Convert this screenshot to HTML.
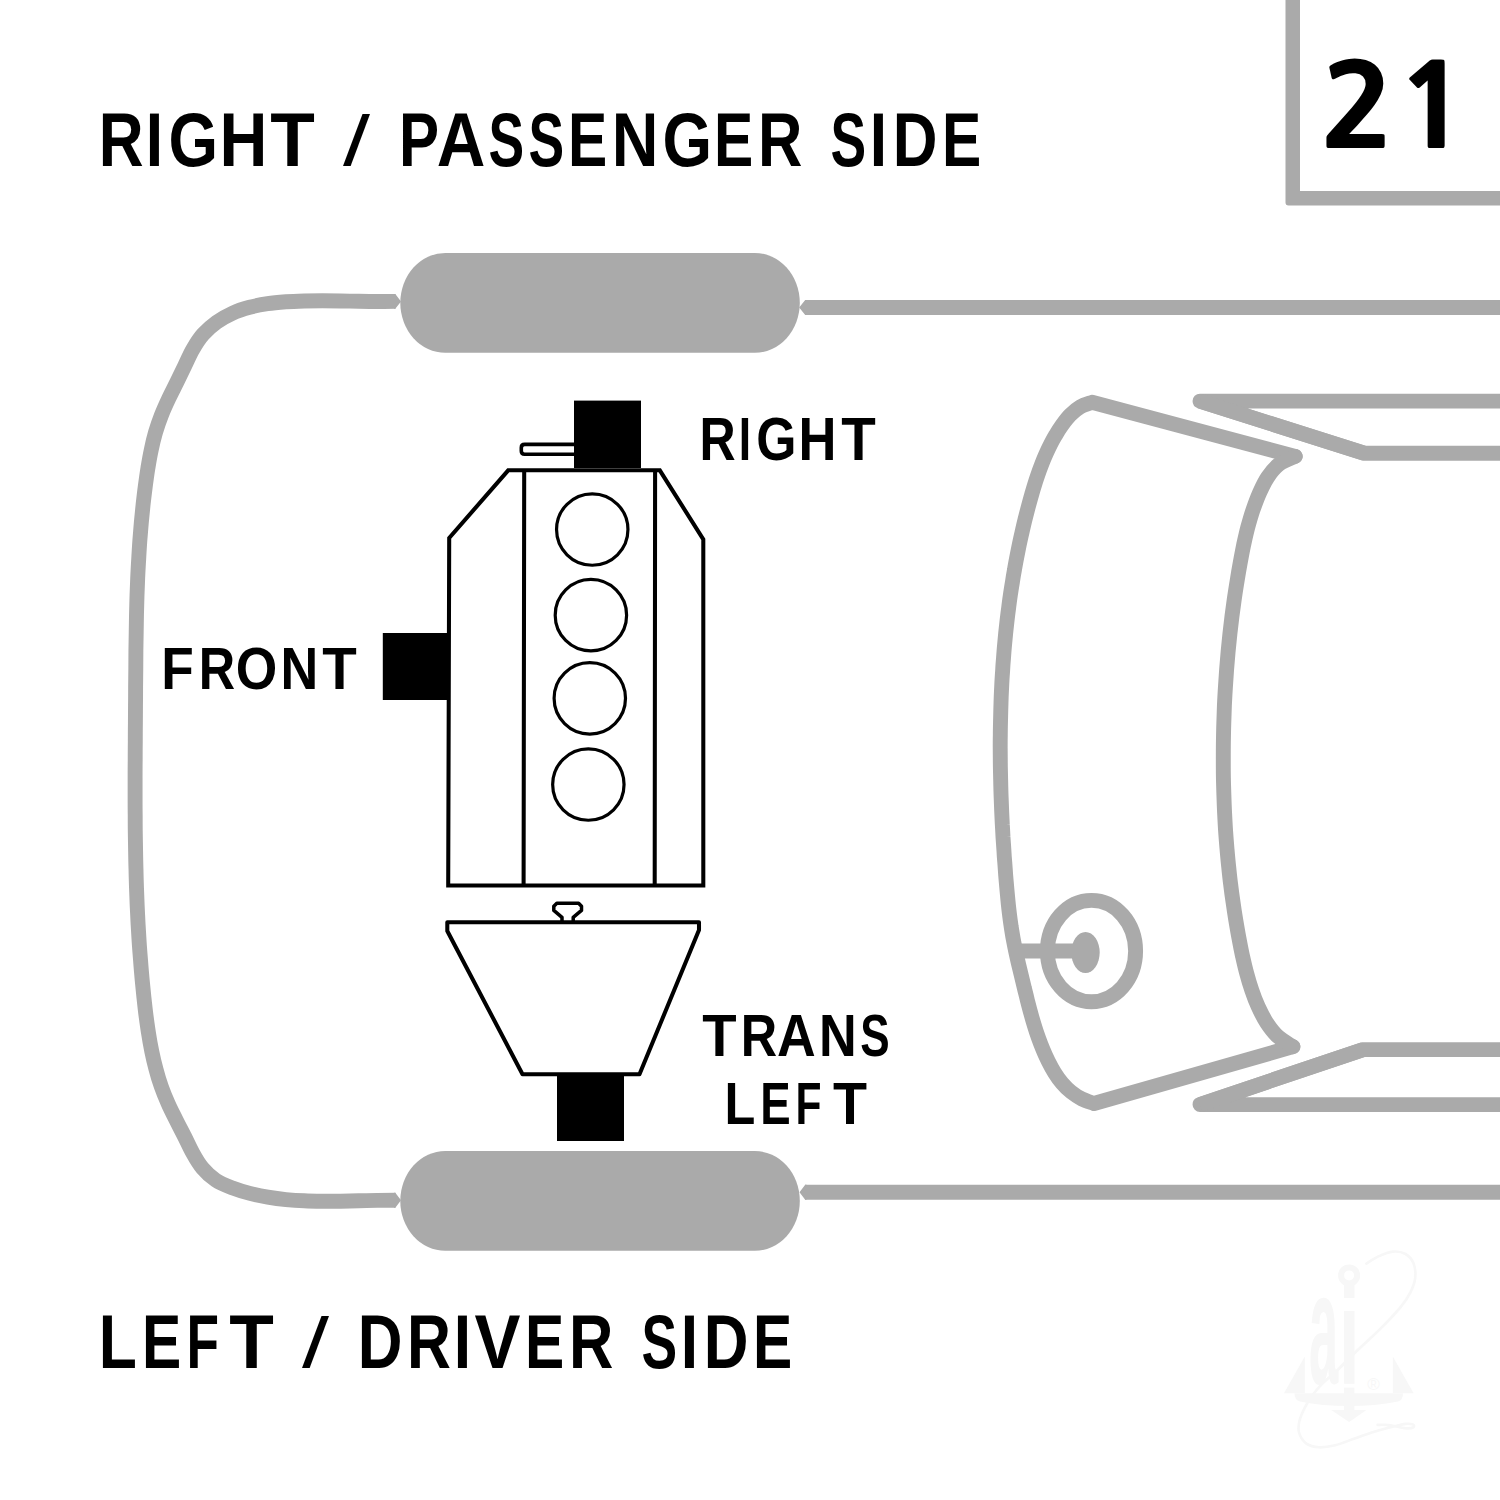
<!DOCTYPE html>
<html lang="en">
<head>
<meta charset="utf-8">
<title>Engine mount location diagram 21</title>
<style>
html,body{margin:0;padding:0;background:#fff;}
body{width:1500px;height:1500px;overflow:hidden;}
svg{display:block;}
</style>
</head>
<body>
<svg width="1500" height="1500" viewBox="0 0 1500 1500">
<rect width="1500" height="1500" fill="#fff"/>
<g font-family="'Liberation Sans', sans-serif">
<path d="M1366.4 1263.6 C1368.4 1262.4 1374.0 1258.4 1378.4 1256.4 C1382.8 1254.4 1388.3 1252.0 1392.8 1251.6 C1397.3 1251.2 1402.1 1252.0 1405.6 1254.0 C1409.1 1256.0 1412.0 1259.6 1413.6 1263.6 C1415.2 1267.6 1415.7 1273.2 1415.2 1278.0 C1414.7 1282.8 1412.8 1287.6 1410.4 1292.4 C1408.0 1297.2 1405.9 1300.7 1400.8 1306.8 C1395.7 1312.9 1387.7 1321.5 1380.0 1329.2 C1372.3 1336.9 1361.3 1346.5 1354.4 1353.2 C1347.5 1359.9 1343.7 1364.1 1338.4 1369.2 C1333.1 1374.3 1326.7 1379.3 1322.4 1383.6 C1318.1 1387.9 1315.7 1390.8 1312.8 1394.8 C1309.9 1398.8 1307.1 1403.1 1304.8 1407.6 C1302.5 1412.1 1300.1 1417.7 1299.2 1422.0 C1298.3 1426.3 1298.0 1429.6 1299.2 1433.2 C1300.4 1436.8 1303.1 1441.3 1306.4 1443.6 C1309.7 1445.9 1314.4 1447.0 1319.2 1447.3 C1324.0 1447.5 1329.1 1446.7 1335.2 1445.2 C1341.3 1443.7 1349.3 1440.3 1356.0 1438.0 C1362.7 1435.7 1369.1 1433.5 1375.2 1431.6 C1381.3 1429.7 1387.7 1428.1 1392.8 1426.8 C1397.9 1425.5 1402.3 1424.3 1405.6 1423.9 C1408.9 1423.5 1411.5 1423.9 1412.8 1424.4 C1414.1 1424.9 1414.5 1426.5 1413.6 1427.1 C1412.7 1427.8 1410.1 1428.5 1407.2 1428.4 C1404.3 1428.3 1399.5 1427.1 1396.0 1426.5 C1392.5 1425.9 1389.5 1425.1 1386.4 1424.9 C1383.3 1424.6 1379.1 1424.9 1377.6 1424.9" fill="none" stroke="#f7f7f7" stroke-width="2.6" stroke-linecap="round" stroke-linejoin="round"/>
<circle cx="1349.1" cy="1275.4" r="8" fill="none" stroke="#f7f7f7" stroke-width="6"/>
<rect x="1344" y="1387.6" width="10.4" height="30" fill="#f7f7f7"/>
<path d="M1284 1393.2 L1304.8 1356.4 V1393.2 Z M1413.6 1393.2 L1392.8 1356.4 V1393.2 Z" fill="#f7f7f7"/>
<path d="M1294.5 1393.2 H1403 Q1403 1400 1398 1401.5 Q1375 1406 1349 1406 Q1322 1406 1300 1401.5 Q1294.5 1400 1294.5 1393.2 Z" fill="#f7f7f7"/>
<path d="M1331.2 1410 H1366.4 L1349.1 1422 Z" fill="#f7f7f7"/>
<text x="1308.9" y="1382.8" font-size="159.2" font-weight="700" textLength="29.2" lengthAdjust="spacingAndGlyphs" fill="#f7f7f7">a</text>
<text x="1338.7" y="1384.4" font-size="138" font-weight="700" textLength="21.1" lengthAdjust="spacingAndGlyphs" fill="#f7f7f7">i</text>
<text x="1373.6" y="1389.6" font-size="17" font-weight="400" text-anchor="middle" fill="#f7f7f7">&#174;</text>
</g>
<g fill="none" stroke="#aaaaaa" stroke-width="14.9" stroke-linecap="round" stroke-linejoin="round">
<path d="M395.5 301.4 C392.4 301.4 383.2 301.5 377.1 301.5 C371.0 301.5 364.9 301.4 358.8 301.3 C352.8 301.2 346.7 301.1 340.7 301.0 C334.6 300.9 328.6 300.8 322.5 300.8 C316.5 300.8 310.4 300.8 304.3 301.0 C298.2 301.2 292.1 301.4 286.0 301.8 C279.8 302.3 273.6 302.8 267.6 303.7 C261.5 304.6 255.5 305.7 249.6 307.3 C243.8 308.9 238.0 310.7 232.5 313.2 C227.0 315.7 221.5 318.7 216.6 322.2 C211.7 325.7 207.1 329.8 203.1 334.3 C199.1 338.8 195.9 344.0 192.9 349.2 C189.8 354.4 187.5 360.2 184.8 365.7 C182.1 371.2 179.5 376.8 176.8 382.3 C174.1 387.8 171.3 393.1 168.7 398.6 C166.1 404.1 163.6 409.6 161.4 415.2 C159.2 420.8 157.2 426.6 155.5 432.4 C153.8 438.2 152.4 444.1 151.2 450.1 C149.9 456.0 148.9 462.1 147.9 468.1 C146.9 474.2 146.1 480.2 145.3 486.3 C144.5 492.4 143.8 498.4 143.1 504.5 C142.5 510.6 141.9 516.7 141.3 522.7 C140.8 528.8 140.3 534.9 139.8 541.0 C139.4 547.0 139.0 553.1 138.7 559.2 C138.3 565.3 138.0 571.3 137.7 577.4 C137.5 583.5 137.2 589.6 137.0 595.6 C136.8 601.7 136.7 607.8 136.5 613.9 C136.4 620.0 136.3 626.0 136.2 632.1 C136.1 638.2 136.0 644.3 135.9 650.4 C135.9 656.5 135.8 662.5 135.8 668.6 C135.7 674.7 135.7 680.8 135.6 686.9 C135.6 693.0 135.6 699.1 135.5 705.2 C135.5 711.3 135.4 717.3 135.4 723.4 C135.3 729.5 135.3 735.6 135.3 741.7 C135.2 747.8 135.2 753.9 135.2 760.0 C135.1 766.1 135.1 772.2 135.1 778.3 C135.1 784.4 135.1 790.4 135.1 796.5 C135.1 802.6 135.1 808.7 135.2 814.8 C135.2 820.9 135.2 827.0 135.3 833.1 C135.4 839.2 135.5 845.3 135.6 851.4 C135.7 857.5 135.8 863.5 136.0 869.6 C136.1 875.7 136.3 881.8 136.5 887.9 C136.7 894.0 137.0 900.1 137.2 906.1 C137.5 912.2 137.8 918.3 138.1 924.4 C138.5 930.5 138.8 936.6 139.2 942.6 C139.6 948.7 140.1 954.8 140.6 960.9 C141.0 966.9 141.6 973.0 142.1 979.1 C142.7 985.2 143.3 991.2 143.9 997.3 C144.6 1003.4 145.2 1009.4 146.0 1015.5 C146.8 1021.5 147.6 1027.6 148.6 1033.6 C149.5 1039.6 150.6 1045.6 151.8 1051.5 C153.0 1057.5 154.4 1063.4 156.0 1069.2 C157.5 1075.1 159.3 1080.9 161.3 1086.6 C163.3 1092.3 165.6 1097.9 168.1 1103.5 C170.5 1109.1 173.4 1114.5 176.1 1120.0 C178.8 1125.5 181.8 1130.9 184.5 1136.4 C187.3 1141.9 189.7 1147.6 192.7 1152.9 C195.6 1158.2 198.6 1163.6 202.5 1168.1 C206.3 1172.6 210.7 1176.8 215.7 1180.1 C220.6 1183.4 226.6 1185.7 232.3 1187.9 C238.0 1190.1 244.0 1191.9 249.9 1193.4 C255.8 1194.9 261.8 1196.2 267.8 1197.2 C273.8 1198.2 279.9 1199.0 286.0 1199.6 C292.0 1200.2 298.1 1200.6 304.2 1200.8 C310.3 1201.1 316.4 1201.2 322.5 1201.3 C328.6 1201.3 334.6 1201.2 340.7 1201.2 C346.8 1201.1 352.8 1200.9 358.9 1200.8 C365.0 1200.6 371.1 1200.5 377.2 1200.4 C383.2 1200.3 392.4 1200.3 395.5 1200.3" stroke-linecap="butt"/>
<path d="M394 293.95 H395.3 L401 301.4 L395.3 308.85 H394 Z M394 1192.85 H395.3 L401 1200.3 L395.3 1207.75 H394 Z" fill="#aaaaaa" stroke="none"/>
<path d="M805 307.5 H1500 M805 1192.3 H1500" stroke-linecap="butt"/>
<path d="M806.5 300.05 H805.2 L799.2 307.5 L805.2 314.95 H806.5 Z M806.5 1184.85 H805.2 L799.5 1192.3 L805.2 1199.75 H806.5 Z" fill="#aaaaaa" stroke="none"/>
<rect x="400.3" y="252.9" width="399.5" height="99.9" rx="45" ry="49.95" fill="#aaaaaa" stroke="none"/>
<rect x="400.3" y="1151" width="399.5" height="99.8" rx="45" ry="49.9" fill="#aaaaaa" stroke="none"/>
<path d="M1295.2 456.4 L1092 402.3  C1090.0 403.1 1083.8 404.9 1080.1 407.0 C1076.5 409.1 1073.2 412.0 1070.2 415.0 C1067.2 418.0 1064.7 421.5 1062.2 424.9 C1059.7 428.4 1057.4 432.0 1055.3 435.7 C1053.1 439.3 1051.2 443.1 1049.3 446.9 C1047.4 450.7 1045.7 454.6 1044.0 458.5 C1042.4 462.4 1040.9 466.4 1039.4 470.4 C1038.0 474.4 1036.6 478.4 1035.3 482.5 C1034.0 486.5 1032.8 490.7 1031.6 494.8 C1030.4 498.9 1029.3 503.0 1028.2 507.1 C1027.1 511.3 1026.1 515.4 1025.0 519.5 C1024.0 523.7 1023.0 527.8 1022.1 532.0 C1021.1 536.1 1020.2 540.3 1019.3 544.5 C1018.5 548.7 1017.6 552.8 1016.8 557.0 C1016.0 561.2 1015.2 565.4 1014.5 569.6 C1013.7 573.8 1013.0 578.0 1012.4 582.2 C1011.7 586.4 1011.0 590.6 1010.4 594.8 C1009.8 599.0 1009.2 603.2 1008.7 607.5 C1008.1 611.7 1007.6 615.9 1007.1 620.2 C1006.6 624.4 1006.2 628.6 1005.7 632.9 C1005.3 637.1 1004.9 641.3 1004.5 645.6 C1004.1 649.8 1003.8 654.1 1003.5 658.3 C1003.1 662.6 1002.8 666.8 1002.6 671.1 C1002.3 675.3 1002.0 679.6 1001.8 683.8 C1001.6 688.1 1001.4 692.4 1001.2 696.6 C1001.1 700.9 1000.9 705.1 1000.8 709.4 C1000.7 713.7 1000.6 717.9 1000.5 722.2 C1000.4 726.4 1000.3 730.7 1000.3 735.0 C1000.2 739.2 1000.2 743.5 1000.2 747.8 C1000.2 752.0 1000.3 756.3 1000.3 760.5 C1000.3 764.8 1000.4 769.1 1000.5 773.3 C1000.6 777.6 1000.7 781.8 1000.8 786.1 C1000.9 790.4 1001.0 794.6 1001.2 798.9 C1001.4 803.1 1001.5 807.4 1001.7 811.7 C1001.9 815.9 1002.1 820.2 1002.3 824.4 C1002.6 828.7 1002.8 832.9 1003.0 837.2 C1003.3 841.5 1003.6 845.7 1003.9 850.0 C1004.1 854.2 1004.4 858.5 1004.8 862.7 C1005.1 867.0 1005.4 871.2 1005.7 875.5 C1006.1 879.7 1006.4 884.0 1006.8 888.2 C1007.2 892.5 1007.6 896.7 1008.0 901.0 C1008.4 905.2 1008.9 909.4 1009.4 913.7 C1009.9 917.9 1010.5 922.1 1011.1 926.3 C1011.8 930.5 1012.4 934.7 1013.2 938.9 C1014.0 943.1 1014.8 947.3 1015.7 951.4 C1016.6 955.6 1017.6 959.8 1018.5 963.9 C1019.5 968.1 1020.5 972.2 1021.5 976.3 C1022.5 980.5 1023.5 984.7 1024.5 988.8 C1025.6 992.9 1026.6 997.1 1027.6 1001.2 C1028.7 1005.4 1029.7 1009.5 1030.9 1013.6 C1032.0 1017.7 1033.2 1021.8 1034.5 1025.9 C1035.7 1029.9 1037.1 1034.0 1038.5 1038.0 C1039.9 1042.0 1041.5 1046.0 1043.1 1049.9 C1044.7 1053.8 1046.5 1057.7 1048.4 1061.6 C1050.3 1065.4 1052.3 1069.2 1054.6 1072.8 C1056.8 1076.4 1059.3 1079.9 1062.1 1083.1 C1064.8 1086.3 1067.9 1089.4 1071.2 1092.0 C1074.6 1094.7 1078.2 1097.1 1082.0 1099.0 C1085.8 1100.9 1092.0 1102.7 1094.0 1103.5 L1292.9 1046.7"/>
<path d="M1295.2 456.4 C1292.5 457.7 1283.5 460.9 1278.9 464.4 C1274.3 467.9 1270.7 472.7 1267.5 477.5 C1264.2 482.4 1261.7 488.1 1259.2 493.6 C1256.8 499.0 1254.8 504.7 1252.8 510.4 C1250.9 516.1 1249.3 521.8 1247.7 527.6 C1246.2 533.4 1244.9 539.3 1243.6 545.1 C1242.4 551.0 1241.3 556.9 1240.2 562.8 C1239.1 568.7 1238.1 574.6 1237.2 580.5 C1236.2 586.4 1235.3 592.3 1234.4 598.3 C1233.6 604.2 1232.8 610.1 1232.0 616.1 C1231.3 622.0 1230.6 627.9 1229.9 633.9 C1229.3 639.8 1228.7 645.8 1228.1 651.7 C1227.6 657.7 1227.1 663.7 1226.6 669.6 C1226.2 675.6 1225.8 681.6 1225.4 687.5 C1225.0 693.5 1224.7 699.5 1224.4 705.5 C1224.2 711.4 1224.0 717.4 1223.8 723.4 C1223.6 729.4 1223.5 735.4 1223.4 741.3 C1223.3 747.3 1223.3 753.3 1223.3 759.3 C1223.3 765.3 1223.3 771.3 1223.4 777.3 C1223.5 783.2 1223.7 789.2 1223.9 795.2 C1224.1 801.2 1224.3 807.2 1224.6 813.1 C1224.9 819.1 1225.2 825.1 1225.6 831.1 C1226.0 837.0 1226.5 843.0 1227.0 849.0 C1227.5 854.9 1228.0 860.9 1228.7 866.8 C1229.3 872.8 1229.9 878.7 1230.7 884.7 C1231.4 890.6 1232.2 896.5 1233.1 902.5 C1233.9 908.4 1234.8 914.3 1235.8 920.2 C1236.8 926.1 1237.8 932.0 1238.9 937.9 C1240.0 943.8 1241.1 949.7 1242.4 955.6 C1243.7 961.4 1245.0 967.3 1246.6 973.1 C1248.1 978.8 1249.8 984.6 1251.8 990.2 C1253.7 995.9 1255.8 1001.5 1258.3 1006.9 C1260.8 1012.3 1263.5 1017.8 1266.7 1022.8 C1270.0 1027.8 1273.5 1032.6 1277.9 1036.6 C1282.2 1040.6 1290.4 1045.0 1292.9 1046.7"/>
<path d="M1500 401.1 H1200 L1364 453.2" stroke-linecap="butt"/>
<path d="M1200 401.1 L1364 453.2 H1500" stroke-linecap="butt" stroke-linejoin="miter"/>
<path d="M1500 1104.6 H1200 L1363 1049.6" stroke-linecap="butt"/>
<path d="M1200 1104.6 L1363 1049.6 H1500" stroke-linecap="butt" stroke-linejoin="miter"/>
<ellipse cx="1091.5" cy="951.1" rx="44.1" ry="50.7"/>
<ellipse cx="1085.5" cy="952.5" rx="14.2" ry="20.5" fill="#aaaaaa" stroke="none"/>
<path d="M1014 951.1 H1080" stroke-linecap="butt" stroke-width="15"/>
<path d="M1285.5 0 V202.6 Q1285.5 205.6 1288.5 205.6 H1500 V190.9 H1300 V0 Z" fill="#aaaaaa" stroke="none"/>
</g>
<g fill="none" stroke="#000" stroke-width="4.05" stroke-linejoin="miter">
<path d="M508.2 470.3 H659.8 L703.3 539.4 V885.4 H448.2 L449.2 538 Z"/>
<path d="M524.2 470 L523.6 885 M655.1 470 L654.7 885"/>
<circle cx="592.25" cy="529.55" r="35.7" stroke-width="3.2"/>
<circle cx="590.90" cy="615.15" r="35.7" stroke-width="3.2"/>
<circle cx="589.80" cy="698.35" r="35.7" stroke-width="3.2"/>
<circle cx="588.35" cy="784.55" r="35.7" stroke-width="3.2"/>
<path d="M574 444.4 H524.6 Q521.3 444.4 521.3 447.7 V451 Q521.3 454.2 524.6 454.2 H574" stroke-width="3.6"/>
<path d="M447.3 922.2 H699 V930 L639.5 1074.2 H522.5 L447.3 931 Z" stroke-linejoin="round"/>
<path d="M562 921 V917.4 L553.8 910.4 V906.2 L556.8 903.2 H578.6 L581.5 906.2 V910.4 L573.2 917.4 V921" stroke-width="3.5" stroke-linejoin="round"/>
<rect x="574" y="400.6" width="67" height="67.4" fill="#000" stroke="none"/>
<rect x="382.8" y="633" width="64.2" height="67" fill="#000" stroke="none"/>
<rect x="557" y="1074" width="67" height="67" fill="#000" stroke="none"/>
</g>
<g font-family="'Liberation Sans', sans-serif" font-weight="700">
<text y="166.0" font-size="75.87"><tspan x="98.85" y="166.0" textLength="44.83" lengthAdjust="spacingAndGlyphs">R</tspan><tspan x="145.82" y="166.0" textLength="17.36" lengthAdjust="spacingAndGlyphs">I</tspan><tspan x="168.39" y="166.0" textLength="49.57" lengthAdjust="spacingAndGlyphs">G</tspan><tspan x="219.56" y="166.0" textLength="47.91" lengthAdjust="spacingAndGlyphs">H</tspan><tspan x="270.18" y="166.0" textLength="44.60" lengthAdjust="spacingAndGlyphs">T</tspan> <tspan x="343.00" y="165.31" font-size="70.81" font-weight="400" textLength="27.00" lengthAdjust="spacingAndGlyphs">/</tspan> <tspan x="398.98" y="166.0" textLength="40.07" lengthAdjust="spacingAndGlyphs">P</tspan><tspan x="436.72" y="166.0" textLength="48.65" lengthAdjust="spacingAndGlyphs">A</tspan><tspan x="488.46" y="166.0" textLength="35.63" lengthAdjust="spacingAndGlyphs">S</tspan><tspan x="528.46" y="166.0" textLength="35.63" lengthAdjust="spacingAndGlyphs">S</tspan><tspan x="568.07" y="166.0" textLength="39.23" lengthAdjust="spacingAndGlyphs">E</tspan><tspan x="611.68" y="166.0" textLength="46.68" lengthAdjust="spacingAndGlyphs">N</tspan><tspan x="662.39" y="166.0" textLength="49.57" lengthAdjust="spacingAndGlyphs">G</tspan><tspan x="714.07" y="166.0" textLength="39.23" lengthAdjust="spacingAndGlyphs">E</tspan><tspan x="757.89" y="166.0" textLength="44.37" lengthAdjust="spacingAndGlyphs">R</tspan> <tspan x="830.46" y="166.0" textLength="35.63" lengthAdjust="spacingAndGlyphs">S</tspan><tspan x="869.82" y="166.0" textLength="17.36" lengthAdjust="spacingAndGlyphs">I</tspan><tspan x="892.86" y="166.0" textLength="44.75" lengthAdjust="spacingAndGlyphs">D</tspan><tspan x="942.07" y="166.0" textLength="39.23" lengthAdjust="spacingAndGlyphs">E</tspan></text>
<text y="1368.0" font-size="75.87"><tspan x="98.83" y="1368.0" textLength="38.09" lengthAdjust="spacingAndGlyphs">L</tspan><tspan x="142.07" y="1368.0" textLength="39.23" lengthAdjust="spacingAndGlyphs">E</tspan><tspan x="186.44" y="1368.0" textLength="32.51" lengthAdjust="spacingAndGlyphs">F</tspan><tspan x="229.18" y="1368.0" textLength="44.60" lengthAdjust="spacingAndGlyphs">T</tspan> <tspan x="302.00" y="1367.31" font-size="70.81" font-weight="400" textLength="27.00" lengthAdjust="spacingAndGlyphs">/</tspan> <tspan x="357.86" y="1368.0" textLength="44.75" lengthAdjust="spacingAndGlyphs">D</tspan><tspan x="406.93" y="1368.0" textLength="43.91" lengthAdjust="spacingAndGlyphs">R</tspan><tspan x="453.82" y="1368.0" textLength="17.36" lengthAdjust="spacingAndGlyphs">I</tspan><tspan x="474.53" y="1368.0" textLength="45.94" lengthAdjust="spacingAndGlyphs">V</tspan><tspan x="525.07" y="1368.0" textLength="39.23" lengthAdjust="spacingAndGlyphs">E</tspan><tspan x="568.89" y="1368.0" textLength="44.37" lengthAdjust="spacingAndGlyphs">R</tspan> <tspan x="641.46" y="1368.0" textLength="35.63" lengthAdjust="spacingAndGlyphs">S</tspan><tspan x="680.82" y="1368.0" textLength="17.36" lengthAdjust="spacingAndGlyphs">I</tspan><tspan x="703.86" y="1368.0" textLength="44.75" lengthAdjust="spacingAndGlyphs">D</tspan><tspan x="753.07" y="1368.0" textLength="39.23" lengthAdjust="spacingAndGlyphs">E</tspan></text>
<text y="688.9" font-size="60.03"><tspan x="161.34" y="688.9" textLength="32.51" lengthAdjust="spacingAndGlyphs">F</tspan><tspan x="198.63" y="688.9" textLength="36.41" lengthAdjust="spacingAndGlyphs">R</tspan><tspan x="235.81" y="688.9" textLength="41.53" lengthAdjust="spacingAndGlyphs">O</tspan><tspan x="280.61" y="688.9" textLength="37.71" lengthAdjust="spacingAndGlyphs">N</tspan><tspan x="322.16" y="688.9" textLength="34.54" lengthAdjust="spacingAndGlyphs">T</tspan></text>
<text y="459.9" font-size="60.18"><tspan x="699.55" y="459.9" textLength="36.18" lengthAdjust="spacingAndGlyphs">R</tspan><tspan x="738.63" y="459.9" textLength="12.34" lengthAdjust="spacingAndGlyphs">I</tspan><tspan x="756.28" y="459.9" textLength="40.23" lengthAdjust="spacingAndGlyphs">G</tspan><tspan x="798.38" y="459.9" textLength="37.96" lengthAdjust="spacingAndGlyphs">H</tspan><tspan x="841.26" y="459.9" textLength="34.54" lengthAdjust="spacingAndGlyphs">T</tspan></text>
<text y="1055.9" font-size="59.88"><tspan x="702.27" y="1055.9" textLength="34.34" lengthAdjust="spacingAndGlyphs">T</tspan><tspan x="740.63" y="1055.9" textLength="36.41" lengthAdjust="spacingAndGlyphs">R</tspan><tspan x="777.06" y="1055.9" textLength="38.75" lengthAdjust="spacingAndGlyphs">A</tspan><tspan x="818.91" y="1055.9" textLength="37.71" lengthAdjust="spacingAndGlyphs">N</tspan><tspan x="860.33" y="1055.9" textLength="29.39" lengthAdjust="spacingAndGlyphs">S</tspan></text>
<text y="1124.1" font-size="59.59"><tspan x="724.62" y="1124.1" textLength="30.83" lengthAdjust="spacingAndGlyphs">L</tspan><tspan x="760.15" y="1124.1" textLength="30.43" lengthAdjust="spacingAndGlyphs">E</tspan><tspan x="795.55" y="1124.1" textLength="26.01" lengthAdjust="spacingAndGlyphs">F</tspan><tspan x="832.97" y="1124.1" textLength="34.02" lengthAdjust="spacingAndGlyphs">T</tspan></text>
<text transform="scale(1.0828 1)" x="1219.00 1289.29" y="148.46" font-size="114.58" font-weight="800" font-family="NanumGothic, 'Liberation Sans', sans-serif">21</text>
</g>
</svg>
</body>
</html>
